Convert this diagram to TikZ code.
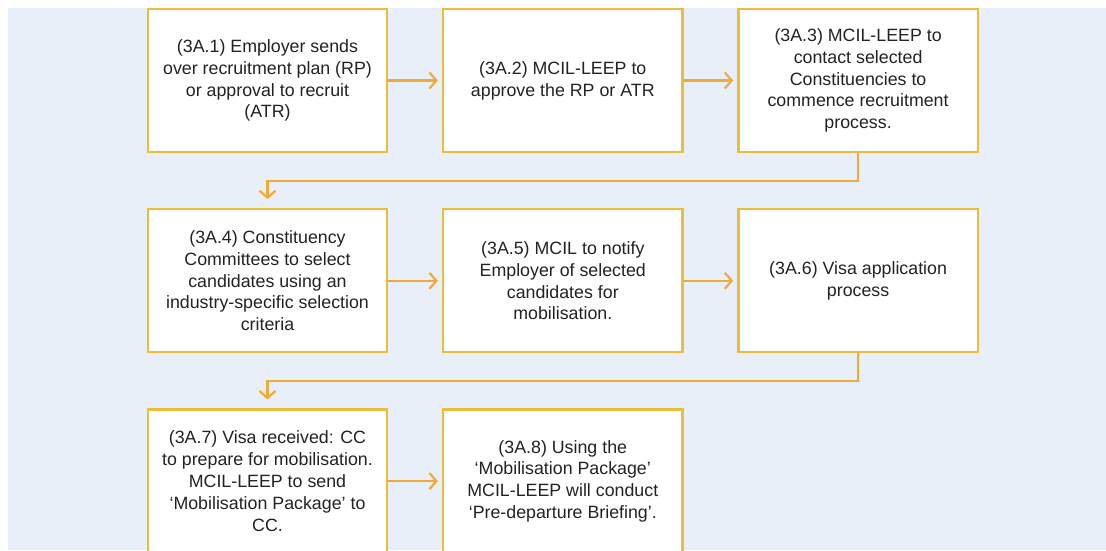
\documentclass[tikz,border=0pt]{standalone}
\usepackage{fontspec}
\setmainfont{Liberation Sans}
\usetikzlibrary{arrows.meta, positioning}
\definecolor{bgblue}{RGB}{233,239,249}
\definecolor{boxgold}{RGB}{234,190,58}
\definecolor{flowor}{RGB}{240,170,56}
\definecolor{txtgray}{RGB}{35,35,35}

\begin{document}
\begin{tikzpicture}[x=1pt, y=1pt,
        node distance=55pt and 53.5pt,
        stage/.style={draw=boxgold, line width=2.3pt, fill=white,
            minimum width=239.5pt, minimum height=143pt, inner sep=0pt,
            align=center, text=txtgray, font=\fontsize{17.8}{21.8}\selectfont},
        flow/.style={draw=flowor, line width=2.2pt,
            -{Straight Barb[length=7pt, width=16pt]}}]
        \useasboundingbox (0,0) rectangle (1106,-550);
        \clip (0,0) rectangle (1106,-550);
        \fill[bgblue] (8,-8) rectangle (1106,-550);

        \node (a1) [stage] at (267.5,-80.5) {(3A.1) Employer sends\\over recruitment plan (RP)\\or approval to recruit\\(ATR)};
        \node (a2) [stage, right=of a1] {(3A.2) MCIL-LEEP to\\approve the RP or ATR};
        \node (a3) [stage, right=of a2] {(3A.3) MCIL-LEEP to\\contact selected\\Constituencies to\\commence recruitment\\process.};

        \node (a4) [stage, below=of a1] {(3A.4) Constituency\\Committees to select\\candidates using an\\industry-specific selection\\criteria};
        \node (a5) [stage, right=of a4] {(3A.5) MCIL to notify\\Employer of selected\\candidates for\\mobilisation.};
        \node (a6) [stage, right=of a5] {(3A.6) Visa application\\process};

        \node (a7) [stage, below=of a4] {(3A.7) Visa received: CC\\to prepare for mobilisation.\\MCIL-LEEP to send\\‘Mobilisation Package’ to\\CC.};
        \node (a8) [stage, right=of a7] {(3A.8) Using the\\‘Mobilisation Package’\\MCIL-LEEP will conduct\\‘Pre-departure Briefing’.};

        \path[flow, shorten >=4pt]
        (a1) edge (a2)
        (a2) edge (a3)
        (a4) edge (a5)
        (a5) edge (a6)
        (a7) edge (a8);

        \draw[flow, shorten >=9pt] (a3.south) -- ++(0,-27.5) -| (a4.north);
        \draw[flow, shorten >=9pt] (a6.south) -- ++(0,-27.5) -| (a7.north);
    \end{tikzpicture}
\end{document}
